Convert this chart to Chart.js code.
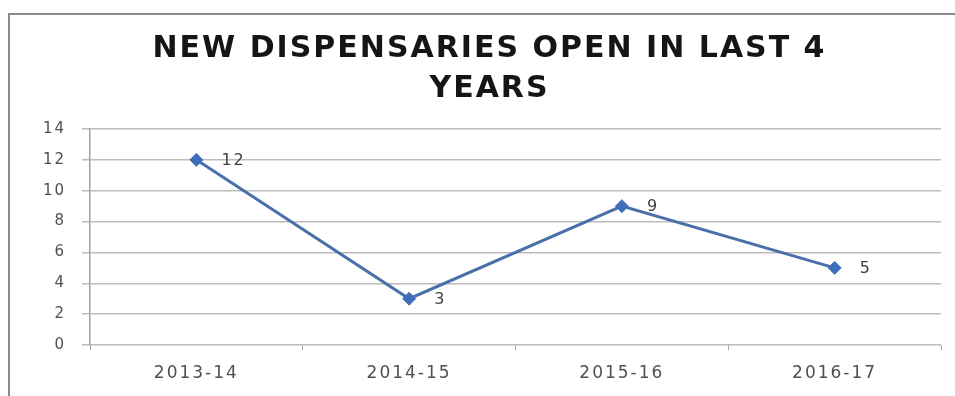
<!DOCTYPE html>
<html>
<head>
<meta charset="utf-8">
<script src="https://cdn.jsdelivr.net/npm/chart.js@4/dist/chart.umd.min.js"></script>
<style>
  html, body { margin: 0; padding: 0; background: #ffffff; }
  #wrap { position: relative; width: 955px; height: 396px; overflow: hidden; }
  #frame { position: absolute; left: 8px; top: 13px; width: 1000px; height: 500px;
           border-left: 2px solid #8a8a8a; border-top: 2px solid #8a8a8a; }
  canvas { position: absolute; left: 0; top: 0; }
</style>
</head>
<body>
<div id="wrap">
  <div id="frame"></div>
  <canvas id="c" width="955" height="396"></canvas>
</div>
<script>
const titleLines = ['NEW DISPENSARIES OPEN IN LAST 4', 'YEARS'];
const categories = ['2013-14', '2014-15', '2015-16', '2016-17'];
const dispensaries = [12, 3, 9, 5];
const yMin = 0, yMax = 14, yStep = 2;

const spacingPlugin = {
  id: 'spacing',
  beforeDraw(chart) { chart.ctx.letterSpacing = '2px'; },
  afterDraw(chart) { chart.ctx.letterSpacing = '0px'; }
};

const labelPlugin = {
  id: 'pointLabels',
  afterDatasetsDraw(chart) {
    const ctx = chart.ctx;
    const meta = chart.getDatasetMeta(0);
    ctx.save();
    ctx.letterSpacing = '2px';
    ctx.font = '16px "DejaVu Sans"';
    ctx.fillStyle = '#404040';
    ctx.textAlign = 'left';
    ctx.textBaseline = 'middle';
    meta.data.forEach((pt, i) => {
      ctx.fillText(String(dispensaries[i]), pt.x + 25, pt.y + 1);
    });
    ctx.restore();
  }
};

new Chart(document.getElementById('c'), {
  type: 'line',
  data: {
    labels: categories,
    datasets: [{
      data: dispensaries,
      borderColor: '#4a70aa',
      backgroundColor: '#4472c4',
      borderWidth: 3,
      tension: 0,
      pointStyle: 'rectRot',
      pointRadius: 6.5,
      pointBackgroundColor: '#3f6fb8',
      pointBorderColor: '#3f6fb8',
      pointBorderWidth: 1
    }]
  },
  options: {
    responsive: false,
    animation: false,
    layout: { padding: { left: 38, right: 14, top: 0, bottom: 0 } },
    plugins: {
      legend: { display: false },
      tooltip: { enabled: false },
      title: {
        display: true,
        text: titleLines,
        color: '#151515',
        font: { family: 'DejaVu Sans', size: 30, weight: 'bold', lineHeight: 1.333 },
        padding: { top: 29, bottom: 20 }
      }
    },
    scales: {
      x: {
        offset: true,
        afterFit(s) { s.height = 51; },
        grid: { display: true, drawOnChartArea: false, drawTicks: true, tickLength: 5, color: '#a8a8a8', offset: true },
        border: { display: false },
        ticks: { color: '#505050', font: { family: 'DejaVu Sans', size: 17 }, padding: 13, maxRotation: 0 }
      },
      y: {
        min: yMin, max: yMax,
        afterFit(s) { s.width = 52; },
        grid: { color: '#bcbcbc', lineWidth: 1.5, tickLength: 8 },
        border: { display: true, color: '#a0a0a0', width: 1.5 },
        ticks: { stepSize: yStep, color: '#505050', font: { family: 'DejaVu Sans', size: 15 }, padding: 16 }
      }
    }
  },
  plugins: [spacingPlugin, labelPlugin]
});
</script>
</body>
</html>
